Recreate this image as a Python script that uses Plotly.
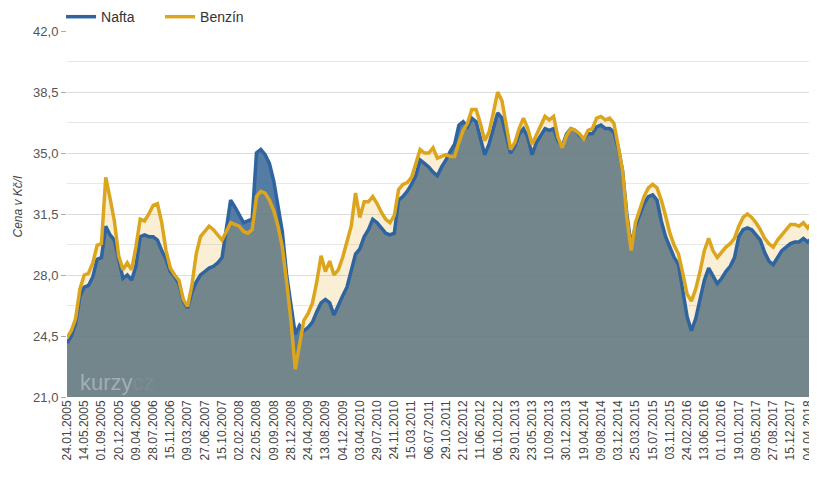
import plotly.graph_objects as go

tick_labels = ["24.01.2005", "14.05.2005", "01.09.2005", "20.12.2005", "09.04.2006", "28.07.2006",
               "15.11.2006", "09.03.2007", "27.06.2007", "15.10.2007", "02.02.2008", "22.05.2008",
               "09.09.2008", "28.12.2008", "24.04.2009", "13.08.2009", "04.12.2009", "03.04.2010",
               "29.07.2010", "24.11.2010", "15.03.2011", "06.07.2011", "29.10.2011", "21.02.2012",
               "11.06.2012", "06.10.2012", "29.01.2013", "23.05.2013", "10.09.2013", "30.12.2013",
               "19.04.2014", "09.08.2014", "03.12.2014", "25.03.2015", "15.07.2015", "03.11.2015",
               "24.02.2016", "13.06.2016", "01.10.2016", "19.01.2017", "09.05.2017", "27.08.2017",
               "15.12.2017", "04.04.2018"]

# samples: 4 per labelled interval
benzin = [24.4, 24.8, 25.5, 27.2, 28.0, 28.1, 28.7, 29.7, 29.8, 33.6,
          32.4, 31.1, 29.1, 28.3, 28.7, 28.3, 29.6, 31.2, 31.1, 31.5,
          32.0, 32.1, 31.0, 29.4, 28.4, 28.0, 27.7, 26.6, 26.2, 27.4,
          29.2, 30.2, 30.5, 30.8, 30.6, 30.3, 30.0, 30.5, 31.0, 30.9,
          30.8, 30.5, 30.4, 30.6, 32.5, 32.8, 32.7, 32.3, 31.7, 30.8,
          29.6, 27.6, 25.4, 22.6, 23.9, 25.4, 25.8, 26.4, 27.6, 29.1,
          28.2, 28.8, 28.0, 28.3, 29.0, 30.0, 30.8, 32.7, 31.3, 32.2,
          32.2, 32.5, 32.1, 31.6, 31.2, 31.0, 31.4, 32.9, 33.2, 33.3,
          33.6, 34.4, 35.2, 35.0, 35.0, 35.3, 34.7, 34.8, 34.9, 34.8,
          34.8, 35.6, 36.3, 36.7, 37.5, 37.5, 36.7, 35.7, 36.2, 37.3,
          38.5, 38.0, 36.6, 35.2, 35.6, 36.4, 37.0, 36.4, 35.5, 36.0,
          36.6, 37.1, 36.9, 37.1, 35.9, 35.3, 36.0, 36.4, 36.3, 36.1,
          35.8, 36.3, 36.4, 37.0, 37.1, 36.9, 37.0, 36.7, 35.4, 34.0,
          31.3, 29.4, 31.0, 31.7, 32.5, 33.0, 33.2, 33.0, 32.3, 31.4,
          30.4, 29.7, 29.2, 28.1, 26.9, 26.5, 27.2, 28.2, 29.4, 30.1,
          29.4, 29.0, 29.3, 29.6, 29.8, 30.1, 30.8, 31.3, 31.5, 31.3,
          31.0, 30.6, 30.1, 29.8, 29.6, 30.0, 30.3, 30.6, 30.9, 30.9,
          30.8, 31.0, 30.7, 31.0]

nafta = [24.1, 24.5, 25.2, 26.8, 27.3, 27.4, 27.9, 28.9, 29.0, 30.8,
         30.3, 30.0, 28.9, 27.8, 28.0, 27.7, 28.5, 30.2, 30.3, 30.2,
         30.2, 30.0, 29.4, 28.9, 28.2, 27.9, 27.5, 26.5, 26.1, 27.0,
         27.6, 28.0, 28.2, 28.4, 28.5, 28.7, 29.0, 30.5, 32.3, 31.9,
         31.4, 31.0, 31.1, 31.2, 35.0, 35.2, 34.9, 34.4, 33.4, 32.0,
         30.5, 28.0, 26.3, 24.6, 25.1, 24.8, 25.0, 25.3, 25.9, 26.4,
         26.6, 26.4, 25.7, 26.3, 26.8, 27.3, 28.2, 29.2, 29.5, 30.2,
         30.6, 31.2, 31.0, 30.7, 30.4, 30.3, 30.4, 32.3, 32.5, 32.8,
         33.2, 33.7, 34.6, 34.4, 34.2, 33.9, 33.7, 34.2, 34.6, 35.1,
         35.5, 36.6, 36.8, 36.5, 37.0, 36.8, 35.9, 34.9, 35.5, 36.4,
         37.3, 37.0, 36.0, 35.0, 35.4, 36.1, 36.4, 35.9, 34.9, 35.6,
         36.0, 36.4, 36.3, 36.4, 35.7, 35.4, 36.1, 36.4, 36.3, 36.0,
         35.8, 36.1, 36.1, 36.5, 36.6, 36.4, 36.4, 36.2, 35.3, 34.0,
         31.5, 29.7, 30.8, 31.5, 32.1, 32.5, 32.6, 32.3, 31.1, 30.2,
         29.6, 29.0, 28.6, 27.1, 25.6, 24.8, 25.5, 26.6, 27.7, 28.4,
         27.9, 27.5, 27.8, 28.2, 28.5, 29.0, 30.2, 30.6, 30.7, 30.6,
         30.3, 30.0, 29.3, 28.8, 28.6, 29.0, 29.4, 29.6, 29.8, 29.9,
         29.9, 30.1, 29.9, 30.1]

y_ticks = [21.0, 24.5, 28.0, 31.5, 35.0, 38.5, 42.0]

x = [i / 4 for i in range(len(benzin))]

BLUE_LINE = "#2f64a0"
GOLD_LINE = "#dca51e"

fig = go.Figure()
fig.add_trace(go.Scatter(x=x, y=nafta, mode="lines", line=dict(width=0),
                         fill="tozeroy", fillcolor="rgba(62,106,152,0.88)",
                         showlegend=False, hoverinfo="skip"))
fig.add_trace(go.Scatter(x=x, y=benzin, mode="lines", line=dict(width=0),
                         fill="tozeroy", fillcolor="rgba(232,176,40,0.2)",
                         showlegend=False, hoverinfo="skip"))
fig.add_trace(go.Scatter(x=x, y=nafta, mode="lines", name="Nafta",
                         line=dict(color=BLUE_LINE, width=3.5)))
fig.add_trace(go.Scatter(x=x, y=benzin, mode="lines", name="Benzín",
                         line=dict(color=GOLD_LINE, width=3.5)))

fig.add_annotation(text="kurzy<span style='color:rgba(255,255,255,0.22)'>cz</span>",
                   xref="paper", yref="paper", x=0.015, y=0.0, xanchor="left", yanchor="bottom",
                   showarrow=False,
                   font=dict(family="Liberation Sans", size=22, color="rgba(255,255,255,0.35)"))

fig.add_annotation(text="<i>Cena v Kč/l</i>", xref="paper", yref="paper",
                   x=-0.066, y=0.52, xanchor="center", yanchor="middle", textangle=-90,
                   showarrow=False, font=dict(size=12, color="#444444"))

# page body adds an 8px offset, so the figure is drawn 8px smaller
fig.update_layout(
    width=809, height=481,
    margin=dict(l=59, r=5, t=23, b=92, autoexpand=False),
    paper_bgcolor="white", plot_bgcolor="white",
    font=dict(family="Liberation Sans, Arial", color="#555555", size=12),
    legend=dict(orientation="h", x=-0.008, xanchor="left", y=1.038, yanchor="middle",
                font=dict(size=14, color="#333333"), itemwidth=30, entrywidth=54,
                bgcolor="rgba(0,0,0,0)"),
    xaxis=dict(range=[0, x[-1]], tickmode="array",
               tickvals=list(range(len(tick_labels))), ticktext=tick_labels,
               tickangle=-90, tickfont=dict(size=12, color="#444444"),
               ticklabeloverflow="allow",
               showgrid=False, zeroline=False, showline=False, ticks="",
               automargin=False),
    yaxis=dict(range=[21, 42], tickmode="array", tickvals=y_ticks,
               ticktext=[f"{v:.1f}".replace(".", ",") for v in y_ticks],
               tickfont=dict(size=13, color="#555555"),
               showgrid=True, gridcolor="#dcdcdc", gridwidth=1,
               minor=dict(dtick=1.75, tick0=21, showgrid=True, gridcolor="#e8e8e8"),
               ticks="outside", ticklen=5, tickcolor="#aaaaaa",
               zeroline=False, showline=False, automargin=False),
)

fig.write_html("out.html")
